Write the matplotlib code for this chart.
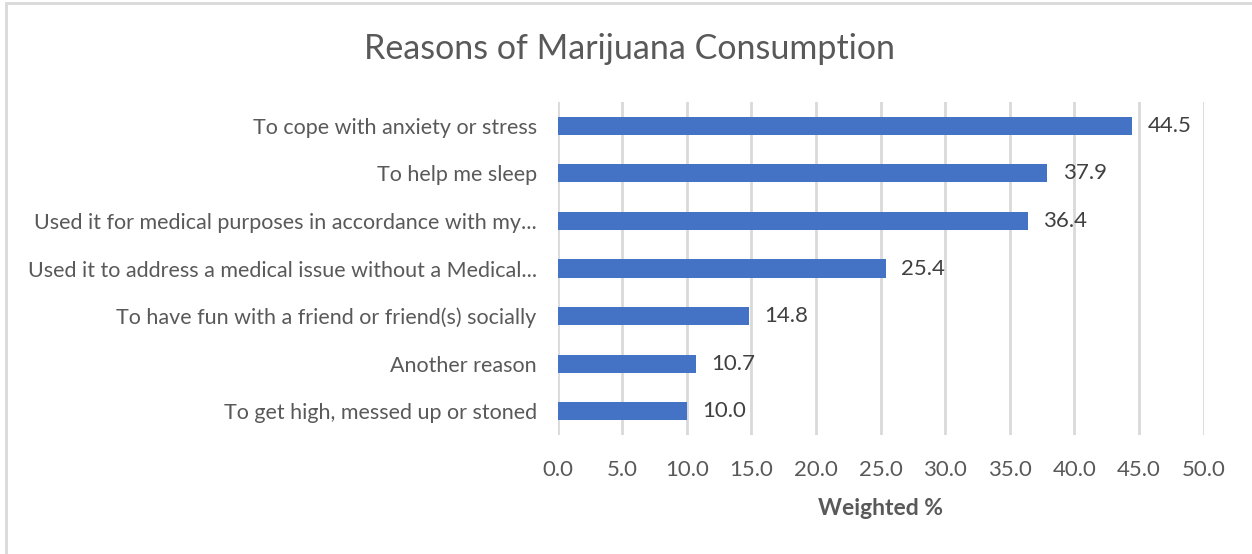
import matplotlib
matplotlib.use("Agg")
import matplotlib.pyplot as plt
from matplotlib.patches import Rectangle

categories = [
    "To cope with anxiety or stress",
    "To help me sleep",
    "Used it for medical purposes in accordance with my...",
    "Used it to address a medical issue without a Medical...",
    "To have fun with a friend or friend(s) socially",
    "Another reason",
    "To get high, messed up or stoned",
]
values = [44.5, 37.9, 36.4, 25.4, 14.8, 10.7, 10.0]
xticks = [0, 5, 10, 15, 20, 25, 30, 35, 40, 45, 50]

plt.rcParams['font.family'] = ['Lato', 'DejaVu Sans']

fig = plt.figure(figsize=(12.52, 5.54), dpi=100)
fig.patches.append(Rectangle((6/1252, -0.1), 1.2, 1 - 3/554 + 0.1, transform=fig.transFigure,
                             fill=False, edgecolor='#d9d9d9', linewidth=2, zorder=0))
ax = fig.add_axes([557.5/1252, 1 - 435/554, 646/1252, 333/554])

ypos = list(range(len(categories)))
ax.barh(ypos, values, height=0.38, color='#4472c4', zorder=3)
ax.set_ylim(len(categories) - 0.5, -0.5)
ax.set_xlim(0, 50)
ax.set_xticks(xticks)
ax.set_xticklabels([f"{v:.1f}" for v in xticks])
ax.set_yticks(ypos)
ax.set_yticklabels(categories)
ax.grid(axis='x', color='#d9d9d9', linewidth=2, zorder=0)
for s in ax.spines.values():
    s.set_visible(False)
ax.tick_params(axis='both', length=0, colors='#595959')
ax.tick_params(axis='y', pad=15, labelsize=15.5)
ax.tick_params(axis='x', pad=18, labelsize=16)
for y, v in zip(ypos, values):
    ax.text(v + 1.2, y, f"{v:.1f}", va='center', ha='left', fontsize=16, color='#404040')
ax.set_xlabel("Weighted %", fontsize=16.5, fontweight='bold', color='#595959', labelpad=13)
fig.text(630/1252, 1 - 49/554, "Reasons of Marijuana Consumption", ha='center', va='center',
         fontsize=24.5, color='#595959')
fig.savefig("out.png", dpi=100)
